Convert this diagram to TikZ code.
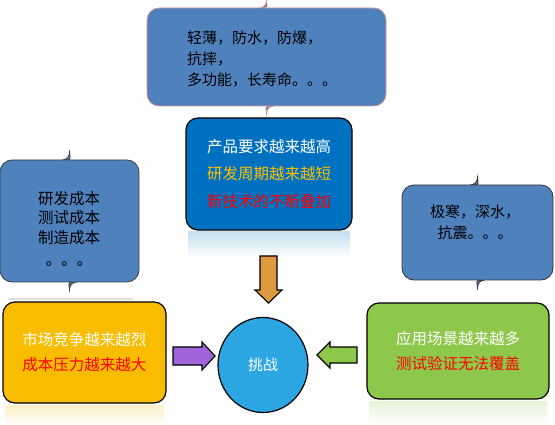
\documentclass[tikz,border=0pt]{standalone}
\usepackage{fontspec}
\setmainfont{Noto Sans CJK SC}
\usepackage{tikz}
\usetikzlibrary{arrows.meta, calc, positioning, shapes.geometric}
\definecolor{NoteBlue}{HTML}{4F81BD}
\definecolor{DeepBlue}{HTML}{0070C0}
\definecolor{Gold}{HTML}{F8BC00}
\definecolor{GoldText}{HTML}{FFC000}
\definecolor{Leaf}{HTML}{8DC84B}
\definecolor{Sky}{HTML}{2CA5E3}
\definecolor{Copper}{HTML}{DD9A40}
\definecolor{Violet}{HTML}{A063D8}
\definecolor{Alarm}{HTML}{FF0000}
\definecolor{PinkLine}{HTML}{D99594}

% rounded box with a small spike at top and bottom centre
\newcommand\spikebox[5][]{%
  \pgfmathsetmacro\cx{(#2+#4)/2}
  \draw[#1, rounded corners=12pt] (\cx-8,#3) -- (#2,#3) -- (#2,#5) -- (\cx-8,#5)
    [sharp corners] .. controls (\cx-3,#5) and (\cx,#5+3) .. (\cx,#5+8)
    .. controls (\cx,#5+3) and (\cx+3,#5) .. (\cx+8,#5)
    [rounded corners=12pt] -- (#4,#5) -- (#4,#3) -- (\cx+8,#3)
    [sharp corners] .. controls (\cx+3,#3) and (\cx,#3-3) .. (\cx,#3-8)
    .. controls (\cx,#3-3) and (\cx-3,#3) .. (\cx-8,#3) -- cycle;}

% block arrow: centre, angle, length, head width, shaft width
\newcommand\blockarrow[7][]{%
  \draw[#1, shift={(#2,#3)}, rotate=#4] (-#5/2,-#7/2) -- (#5/2-13,-#7/2)
    -- (#5/2-13,-#6/2) -- (#5/2,0) -- (#5/2-13,#6/2) -- (#5/2-13,#7/2)
    -- (-#5/2,#7/2) -- cycle;}

\begin{document}
\begin{tikzpicture}[x=1pt, y=-1pt,
    box/.style={draw=black, line width=1.2pt, rounded corners=12pt},
    note/.style={fill=NoteBlue, line width=0.8pt},
    txt/.style={font=\fontsize{15}{21}\selectfont, inner sep=0pt},
    barrow/.style={draw=black, line width=1.1pt}]
  \useasboundingbox (0,0) rectangle (555,425);
  \fill[white] (0,0) rectangle (555,425);

  % reflections
  \shade[top color=DeepBlue!22, bottom color=white] (188,232) rectangle (350,258);
  \shade[top color=Gold!22, bottom color=white] (5,405) rectangle (164,425);
  \shade[top color=Leaf!22, bottom color=white] (369,401) rectangle (547,425);
  \fill[black!12] (8,298) rectangle (133,300);

  % callouts
  \spikebox[note, draw=PinkLine]{147}{8}{386}{106}
  \spikebox[note, draw=black!75]{0}{160}{139}{282}
  \spikebox[note, draw=black!80]{402}{185}{553}{280}

  \node[txt, anchor=west, align=left] (topnote) at (187,59)
    {轻薄，防水，防爆，\\抗摔，\\多功能，长寿命。。。};
  \node[txt, align=center, font=\fontsize{15.5}{19.5}\selectfont] (leftnote) at (69,229)
    {研发成本\\测试成本\\制造成本\\[3pt]。。。};
  \node[txt, align=center] (rightnote) at (475,222) {极寒，深水，\\抗震。。。};

  % main boxes
  \node[box, fill=DeepBlue, minimum width=166pt, minimum height=112pt,
    txt, align=center, font=\fontsize{15.5}{27.5}\selectfont] (req) at (269,174)
    {\textcolor{white}{产品要求越来越高}\\\textcolor{GoldText}{研发周期越来越短}\\\textcolor{Alarm}{新技术的不断叠加}};
  \node[box, fill=Gold, minimum width=163pt, minimum height=101pt,
    txt, align=center, font=\fontsize{15.5}{25}\selectfont] (market) at (84.5,352.5)
    {\textcolor{white}{市场竞争越来越烈}\\\textcolor{Alarm}{成本压力越来越大}};
  \node[box, fill=Leaf, minimum width=182pt, minimum height=96pt,
    txt, align=center, font=\fontsize{15.5}{25}\selectfont] (scene) at (458,351)
    {\textcolor{white}{应用场景越来越多}\\\textcolor{Alarm}{测试验证无法覆盖}};
  \node[ellipse, draw=black, line width=1.2pt, fill=Sky, minimum width=90pt,
    minimum height=95pt, txt, text=white] (challenge) at (263,365) {挑战};

  % block arrows
  \blockarrow[barrow, fill=Copper]{268.5}{279.5}{-90}{47}{27}{17}
  \blockarrow[barrow, fill=Violet]{194}{356}{0}{42}{28}{18}
  \blockarrow[barrow, fill=Leaf]{337}{355}{180}{40}{26}{16}
\end{tikzpicture}
\end{document}
